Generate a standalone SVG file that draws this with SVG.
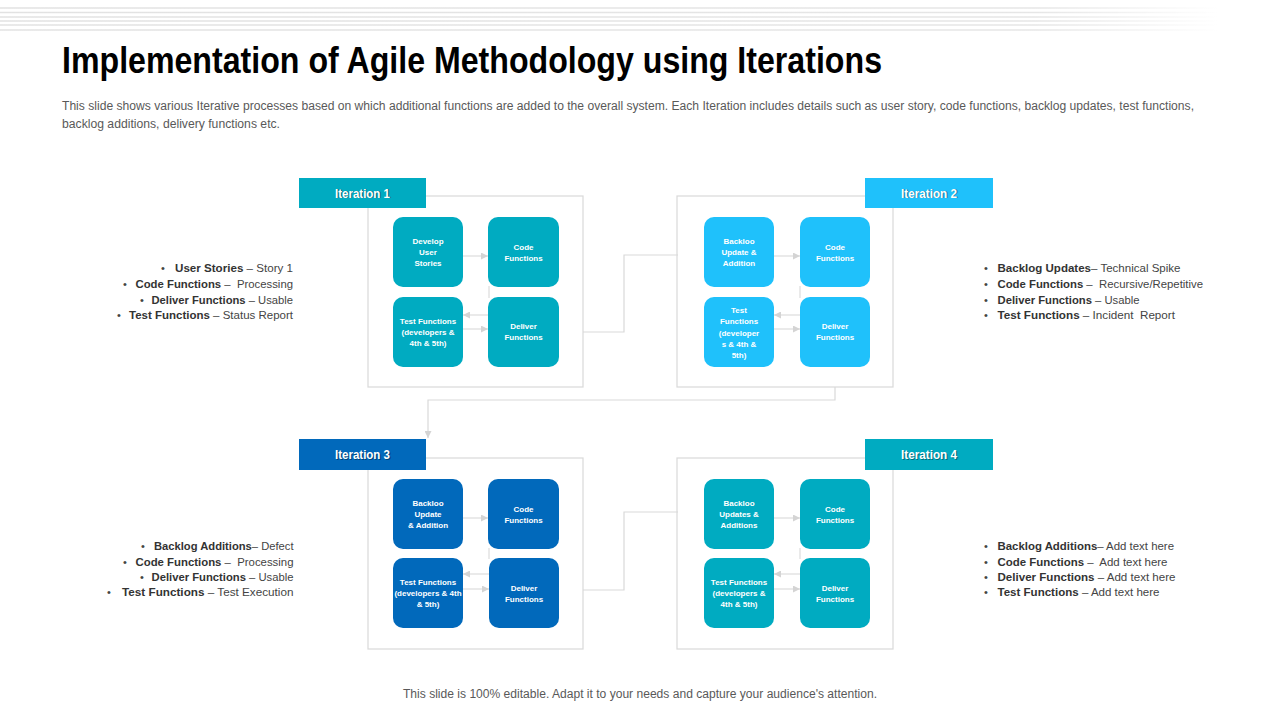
<svg xmlns="http://www.w3.org/2000/svg" width="1280" height="720" viewBox="0 0 1280 720">
<defs>
<linearGradient id="fade" gradientUnits="userSpaceOnUse" x1="0" y1="0" x2="1220" y2="0">
<stop offset="0" stop-color="#e2e2e2"/>
<stop offset="0.85" stop-color="#e6e6e6"/>
<stop offset="1" stop-color="#ffffff"/>
</linearGradient>
<marker id="ah" viewBox="0 0 8 8" refX="8" refY="4" markerWidth="7" markerHeight="7" markerUnits="userSpaceOnUse" orient="auto">
<path d="M0,0 L8,4 L0,8 Z" fill="#d4d4d4"/>
</marker>
</defs>
<style>
.stripe{stroke:url(#fade);stroke-width:1.3;fill:none}
.title{font-family:"Liberation Sans",Arial,sans-serif;font-weight:bold;font-size:36px;fill:#000}
.sub{font-family:"Liberation Sans",Arial,sans-serif;font-size:12px;fill:#595959}
.frame{fill:none;stroke:#d9d9d9;stroke-width:1.2}
.conn{fill:none;stroke:#d9d9d9;stroke-width:1.2}
.inner{fill:none;stroke:#dcdcdc;stroke-width:1.2}
.lbl{font-family:"Liberation Sans",Arial,sans-serif;font-weight:bold;font-size:12.5px;fill:#fff;text-anchor:middle}
.lblsh{font-family:"Liberation Sans",Arial,sans-serif;font-weight:bold;font-size:12.5px;fill:#000;opacity:0.35;text-anchor:middle}
.nt{font-family:"Liberation Sans",Arial,sans-serif;font-weight:bold;font-size:8px;fill:#fff;text-anchor:middle}
.teal{fill:#00abc1}
.cyan{fill:#1fc1fb}
.blue{fill:#0169bb}
.bl{font-family:"Liberation Sans",Arial,sans-serif;font-size:11.5px;fill:#444}
.b{font-weight:bold;fill:#333}
.dot{font-family:"Liberation Sans",Arial,sans-serif;font-size:11px;fill:#444}
</style>
<rect width="1280" height="720" fill="#ffffff"/>
<g id="stripes">
<line class="stripe" x1="0" y1="8" x2="1220" y2="8"/>
<line class="stripe" x1="0" y1="12.5" x2="1220" y2="12.5"/>
<line class="stripe" x1="0" y1="17" x2="1220" y2="17"/>
<line class="stripe" x1="0" y1="21" x2="1220" y2="21"/>
<line class="stripe" x1="0" y1="25" x2="1220" y2="25"/>
<line class="stripe" x1="0" y1="30" x2="1220" y2="30"/>
</g>
<g id="header">
<text class="title" x="62" y="73" textLength="820" lengthAdjust="spacingAndGlyphs">Implementation of Agile Methodology using Iterations</text>
<text class="sub" x="62" y="110" textLength="1132" lengthAdjust="spacingAndGlyphs">This slide shows various Iterative processes based on which additional functions are added to the overall system. Each Iteration includes details such as user story, code functions, backlog updates, test functions,</text>
<text class="sub" x="62" y="128" textLength="218" lengthAdjust="spacingAndGlyphs">backlog additions, delivery functions etc.</text>
</g>
<g id="connectors">
<path class="conn" d="M583,332 H624 V255 H678"/>
<path class="conn" d="M835,387 V400 H428 V438" marker-end="url(#ah)"/>
<path class="conn" d="M583,590 H624 V512 H678"/>
<line class="inner" x1="463" y1="256" x2="488" y2="256" marker-end="url(#ah)"/>
<line class="inner" x1="489" y1="286" x2="489" y2="298"/>
<line class="inner" x1="489" y1="315" x2="463" y2="315" marker-end="url(#ah)"/>
<line class="inner" x1="463" y1="329" x2="488" y2="329" marker-end="url(#ah)"/>
<line class="inner" x1="774" y1="256" x2="800" y2="256" marker-end="url(#ah)"/>
<line class="inner" x1="800" y1="286" x2="800" y2="298"/>
<line class="inner" x1="800" y1="315" x2="774" y2="315" marker-end="url(#ah)"/>
<line class="inner" x1="774" y1="329" x2="800" y2="329" marker-end="url(#ah)"/>
<line class="inner" x1="463" y1="518" x2="488" y2="518" marker-end="url(#ah)"/>
<line class="inner" x1="489" y1="548" x2="489" y2="559"/>
<line class="inner" x1="489" y1="574" x2="463" y2="574" marker-end="url(#ah)"/>
<line class="inner" x1="463" y1="589" x2="489" y2="589" marker-end="url(#ah)"/>
<line class="inner" x1="774" y1="518" x2="800" y2="518" marker-end="url(#ah)"/>
<line class="inner" x1="800" y1="548" x2="800" y2="559"/>
<line class="inner" x1="800" y1="574" x2="774" y2="574" marker-end="url(#ah)"/>
<line class="inner" x1="774" y1="589" x2="800" y2="589" marker-end="url(#ah)"/>
</g>
<g id="iteration1">
<rect class="frame" x="368" y="196" width="215" height="191"/>
<rect class="teal" x="299" y="178" width="127" height="30"/>
<text class="lblsh" x="363.7" y="198.2" textLength="55" lengthAdjust="spacingAndGlyphs">Iteration 1</text>
<text class="lbl" x="362.5" y="197.5" textLength="55" lengthAdjust="spacingAndGlyphs">Iteration 1</text>
<g id="i1-develop"><rect class="teal" x="393" y="217" width="70" height="70" rx="10"/>
<text class="nt" x="428"><tspan x="428" y="244">Develop</tspan><tspan x="428" y="255">User</tspan><tspan x="428" y="266">Stories</tspan></text></g>
<g id="i1-code"><rect class="teal" x="488" y="217" width="71" height="70" rx="10"/>
<text class="nt"><tspan x="523.5" y="250">Code</tspan><tspan x="523.5" y="261">Functions</tspan></text></g>
<g id="i1-test"><rect class="teal" x="393" y="297" width="70" height="70" rx="10"/>
<text class="nt"><tspan x="428" y="324">Test Functions</tspan><tspan x="428" y="335">(developers &amp;</tspan><tspan x="428" y="346">4th &amp; 5th)</tspan></text></g>
<g id="i1-deliver"><rect class="teal" x="488" y="297" width="71" height="70" rx="10"/>
<text class="nt"><tspan x="523.5" y="329">Deliver</tspan><tspan x="523.5" y="340">Functions</tspan></text></g>
</g>
<g id="iteration2">
<rect class="frame" x="677" y="196" width="216" height="191"/>
<rect class="cyan" x="865" y="178" width="128" height="30"/>
<text class="lblsh" x="930.2" y="198.2" textLength="56" lengthAdjust="spacingAndGlyphs">Iteration 2</text>
<text class="lbl" x="929" y="197.5" textLength="56" lengthAdjust="spacingAndGlyphs">Iteration 2</text>
<g id="i2-backlog"><rect class="cyan" x="704" y="217" width="70" height="70" rx="10"/>
<text class="nt"><tspan x="739" y="244">Backloo</tspan><tspan x="739" y="255">Update &amp;</tspan><tspan x="739" y="266">Addition</tspan></text></g>
<g id="i2-code"><rect class="cyan" x="800" y="217" width="70" height="70" rx="10"/>
<text class="nt"><tspan x="835" y="250">Code</tspan><tspan x="835" y="261">Functions</tspan></text></g>
<g id="i2-test"><rect class="cyan" x="704" y="297" width="70" height="70" rx="10"/>
<text class="nt"><tspan x="739" y="312.7">Test</tspan><tspan x="739" y="324">Functions</tspan><tspan x="739" y="335.5">(developer</tspan><tspan x="739" y="347">s &amp; 4th &amp;</tspan><tspan x="739" y="358.3">5th)</tspan></text></g>
<g id="i2-deliver"><rect class="cyan" x="800" y="297" width="70" height="70" rx="10"/>
<text class="nt"><tspan x="835" y="329">Deliver</tspan><tspan x="835" y="340">Functions</tspan></text></g>
</g>
<g id="iteration3">
<rect class="frame" x="368" y="458" width="215" height="191"/>
<rect class="blue" x="299" y="439" width="127" height="31"/>
<text class="lblsh" x="363.7" y="459.7" textLength="55" lengthAdjust="spacingAndGlyphs">Iteration 3</text>
<text class="lbl" x="362.5" y="459" textLength="55" lengthAdjust="spacingAndGlyphs">Iteration 3</text>
<g id="i3-backlog"><rect class="blue" x="393" y="479" width="70" height="70" rx="10"/>
<text class="nt"><tspan x="428" y="505.7">Backloo</tspan><tspan x="428" y="517">Update</tspan><tspan x="428" y="528">&amp; Addition</tspan></text></g>
<g id="i3-code"><rect class="blue" x="488" y="479" width="71" height="70" rx="10"/>
<text class="nt"><tspan x="523.5" y="512">Code</tspan><tspan x="523.5" y="523">Functions</tspan></text></g>
<g id="i3-test"><rect class="blue" x="393" y="558" width="70" height="70" rx="10"/>
<text class="nt"><tspan x="428" y="584.7">Test Functions</tspan><tspan x="428" y="596">(developers &amp; 4th</tspan><tspan x="428" y="607">&amp; 5th)</tspan></text></g>
<g id="i3-deliver"><rect class="blue" x="489" y="558" width="70" height="70" rx="10"/>
<text class="nt"><tspan x="524" y="591">Deliver</tspan><tspan x="524" y="602">Functions</tspan></text></g>
</g>
<g id="iteration4">
<rect class="frame" x="677" y="458" width="216" height="191"/>
<rect class="teal" x="865" y="439" width="128" height="31"/>
<text class="lblsh" x="930.2" y="459.7" textLength="56" lengthAdjust="spacingAndGlyphs">Iteration 4</text>
<text class="lbl" x="929" y="459" textLength="56" lengthAdjust="spacingAndGlyphs">Iteration 4</text>
<g id="i4-backlog"><rect class="teal" x="704" y="479" width="70" height="70" rx="10"/>
<text class="nt"><tspan x="739" y="505.7">Backloo</tspan><tspan x="739" y="517">Updates &amp;</tspan><tspan x="739" y="528">Additions</tspan></text></g>
<g id="i4-code"><rect class="teal" x="800" y="479" width="70" height="70" rx="10"/>
<text class="nt"><tspan x="835" y="512">Code</tspan><tspan x="835" y="523">Functions</tspan></text></g>
<g id="i4-test"><rect class="teal" x="704" y="558" width="70" height="70" rx="10"/>
<text class="nt"><tspan x="739" y="584.7">Test Functions</tspan><tspan x="739" y="596">(developers &amp;</tspan><tspan x="739" y="607">4th &amp; 5th)</tspan></text></g>
<g id="i4-deliver"><rect class="teal" x="800" y="558" width="70" height="70" rx="10"/>
<text class="nt"><tspan x="835" y="591">Deliver</tspan><tspan x="835" y="602">Functions</tspan></text></g>
</g>
<g id="list1">
<text class="dot" x="161" y="272">•</text>
<text class="bl" x="175" y="272" textLength="118" lengthAdjust="spacingAndGlyphs"><tspan class="b">User Stories</tspan> – Story 1</text>
<text class="dot" x="123" y="288">•</text>
<text class="bl" x="135.5" y="288" textLength="157.5" lengthAdjust="spacingAndGlyphs"><tspan class="b">Code Functions</tspan> –&#160; Processing</text>
<text class="dot" x="140" y="303.5">•</text>
<text class="bl" x="151.5" y="303.5" textLength="141.5" lengthAdjust="spacingAndGlyphs"><tspan class="b">Deliver Functions</tspan> – Usable</text>
<text class="dot" x="117" y="319">•</text>
<text class="bl" x="129" y="319" textLength="164" lengthAdjust="spacingAndGlyphs"><tspan class="b">Test Functions</tspan> – Status Report</text>
</g>
<g id="list2">
<text class="dot" x="984" y="272">•</text>
<text class="bl" x="997.5" y="272" textLength="183" lengthAdjust="spacingAndGlyphs"><tspan class="b">Backlog Updates</tspan>– Technical Spike</text>
<text class="dot" x="984" y="288">•</text>
<text class="bl" x="997.5" y="288" textLength="205.5" lengthAdjust="spacingAndGlyphs"><tspan class="b">Code Functions</tspan> –&#160; Recursive/Repetitive</text>
<text class="dot" x="984" y="303.5">•</text>
<text class="bl" x="997.5" y="303.5" textLength="142" lengthAdjust="spacingAndGlyphs"><tspan class="b">Deliver Functions</tspan> – Usable</text>
<text class="dot" x="984" y="319">•</text>
<text class="bl" x="997.5" y="319" textLength="177.5" lengthAdjust="spacingAndGlyphs"><tspan class="b">Test Functions</tspan> – Incident&#160; Report</text>
</g>
<g id="list3">
<text class="dot" x="141" y="550">•</text>
<text class="bl" x="154" y="550" textLength="139.5" lengthAdjust="spacingAndGlyphs"><tspan class="b">Backlog Additions</tspan>– Defect</text>
<text class="dot" x="123" y="565.5">•</text>
<text class="bl" x="135.5" y="565.5" textLength="158" lengthAdjust="spacingAndGlyphs"><tspan class="b">Code Functions</tspan> –&#160; Processing</text>
<text class="dot" x="140" y="580.5">•</text>
<text class="bl" x="151.5" y="580.5" textLength="142" lengthAdjust="spacingAndGlyphs"><tspan class="b">Deliver Functions</tspan> – Usable</text>
<text class="dot" x="107" y="596">•</text>
<text class="bl" x="122" y="596" textLength="171.5" lengthAdjust="spacingAndGlyphs"><tspan class="b">Test Functions</tspan> – Test Execution</text>
</g>
<g id="list4">
<text class="dot" x="984" y="550">•</text>
<text class="bl" x="997.5" y="550" textLength="176.5" lengthAdjust="spacingAndGlyphs"><tspan class="b">Backlog Additions</tspan>– Add text here</text>
<text class="dot" x="984" y="565.5">•</text>
<text class="bl" x="997.5" y="565.5" textLength="170" lengthAdjust="spacingAndGlyphs"><tspan class="b">Code Functions</tspan> –&#160; Add text here</text>
<text class="dot" x="984" y="580.5">•</text>
<text class="bl" x="997.5" y="580.5" textLength="178" lengthAdjust="spacingAndGlyphs"><tspan class="b">Deliver Functions</tspan> – Add text here</text>
<text class="dot" x="984" y="596">•</text>
<text class="bl" x="997.5" y="596" textLength="162" lengthAdjust="spacingAndGlyphs"><tspan class="b">Test Functions</tspan> – Add text here</text>
</g>
<g id="footer">
<text class="sub" x="640" y="698" text-anchor="middle" textLength="474" lengthAdjust="spacingAndGlyphs">This slide is 100% editable. Adapt it to your needs and capture your audience's attention.</text>
</g>
</svg>
